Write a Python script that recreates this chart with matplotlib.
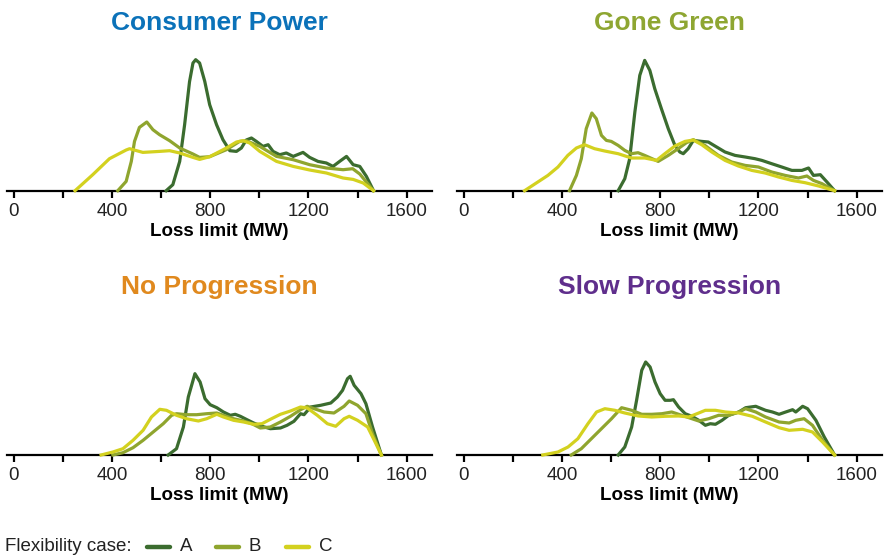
import matplotlib
matplotlib.use("Agg")
import matplotlib.pyplot as plt
from matplotlib.lines import Line2D

plt.rcParams['font.family'] = ['Liberation Sans', 'DejaVu Sans']

# --- data: density curves (height, arbitrary units) ---
# Consumer Power
cp_a_mw = [621, 648, 676, 696, 716, 730, 741, 757, 778, 798, 826, 852, 880, 907, 927, 947, 968, 988,
           1015, 1036, 1056, 1083, 1110, 1138, 1178, 1205, 1239, 1273, 1300, 1327, 1355, 1382, 1409, 1436, 1465]
cp_a = [0, 6, 29.3, 66, 109, 127.7, 131, 127.7, 109.3, 86, 66, 51, 40, 39.3, 42.7, 50.7, 52.7, 49.3,
        44.3, 46, 39.3, 36, 37.7, 34.3, 38.3, 33.3, 29.3, 27.7, 24.3, 29.3, 34.3, 26, 24.3, 14.3, 0]
cp_b_mw = [424, 458, 479, 492, 512, 542, 567, 594, 635, 676, 730, 757, 798, 866, 920, 947, 1002,
           1070, 1138, 1205, 1273, 1341, 1380, 1409, 1465]
cp_b = [0, 9.3, 29.3, 49.3, 63.3, 68.7, 61, 56, 50, 42.7, 36.7, 33.3, 34, 41, 49.3, 50, 44.3,
        34.3, 31, 26, 22.7, 21, 22, 16.7, 0]
cp_c_mw = [250, 322, 390, 458, 472, 526, 594, 635, 676, 730, 757, 798, 866, 907, 934, 961, 1002,
           1070, 1138, 1205, 1273, 1341, 1382, 1423, 1465]
cp_c = [0, 16, 32, 40.7, 42, 38.3, 39.3, 40, 37.7, 33.3, 31.3, 34, 42.7, 48.7, 50, 47.7, 39.3,
        29.3, 24.3, 20.7, 17.7, 12.7, 11.3, 7.7, 0]

# Gone Green
gg_a_mw = [629, 656, 676, 697, 717, 737, 758, 778, 805, 833, 860, 880, 894, 914, 935, 969, 996, 1023,
           1064, 1105, 1146, 1186, 1214, 1254, 1295, 1336, 1377, 1404, 1424, 1452, 1479, 1510]
gg_a = [0, 12, 32, 78.7, 115.3, 130.3, 120.3, 102, 82, 62, 45.3, 38.7, 37, 42, 50.3, 49.3, 48.7, 44.7,
        38.7, 35.3, 33.7, 32, 30.3, 27, 23.7, 20.3, 20.3, 22.7, 15.3, 16, 8.7, 0]
gg_b_mw = [431, 459, 479, 499, 522, 540, 561, 581, 601, 629, 656, 683, 710, 737, 792, 833, 873, 907,
           935, 982, 1037, 1091, 1146, 1200, 1254, 1309, 1363, 1397, 1424, 1459, 1510]
gg_b = [0, 15.3, 32, 62, 77.7, 72, 55.3, 50.3, 49.3, 45.3, 40.3, 37, 38, 35.3, 29.3, 35.3, 42, 48,
        51, 45.3, 35.3, 28.7, 25.3, 23.7, 18.7, 15.3, 12.7, 14.7, 10.3, 7, 0]
gg_c_mw = [248, 302, 343, 384, 424, 459, 492, 533, 574, 629, 683, 737, 785, 819, 860, 901, 935, 969,
           1010, 1064, 1118, 1173, 1227, 1282, 1336, 1390, 1445, 1510]
gg_c = [0, 8.7, 15.3, 23.7, 35.3, 42.7, 46, 42, 39.7, 37, 32.7, 32.7, 30.3, 37, 44.7, 49.3, 50.7, 46,
        38.7, 30.3, 24.7, 20.3, 17.7, 13.7, 10.3, 8, 4.7, 0]

# No Progression
np_a_mw = [629, 663, 691, 711, 738, 759, 779, 800, 827, 854, 882, 902, 923, 950, 977, 1011, 1045, 1086,
           1113, 1141, 1168, 1182, 1209, 1250, 1291, 1318, 1339, 1359, 1370, 1386, 1414, 1434, 1461, 1497]
np_a = [0, 6.3, 28, 58, 81.3, 73, 56.3, 50.3, 47.3, 43, 39.7, 40.7, 38.7, 35.3, 32, 28.7, 26.3, 27,
        29.7, 33.7, 41.3, 40.3, 48, 49.7, 52, 58, 64.7, 76.3, 78.7, 69.7, 61.3, 51.3, 28, 0]
np_b_mw = [404, 445, 486, 527, 568, 609, 643, 663, 704, 745, 786, 827, 854, 895, 936, 970, 1004, 1045,
           1086, 1127, 1168, 1195, 1223, 1264, 1304, 1345, 1366, 1400, 1434, 1461, 1497]
np_b = [0, 2.3, 7.3, 14.7, 23, 31.3, 39.7, 41.3, 40.3, 40.3, 41.3, 42, 39.7, 36.3, 34, 31.3, 27, 28,
        33, 38.7, 45.3, 48.7, 46.3, 43, 42, 48.7, 54, 49.7, 41.3, 21.3, 0]
np_c_mw = [356, 404, 445, 486, 527, 561, 595, 622, 663, 704, 752, 786, 827, 854, 895, 936, 977, 1011,
           1045, 1086, 1127, 1168, 1195, 1236, 1277, 1311, 1345, 1366, 1400, 1441, 1468, 1497]
np_c = [0, 3, 6.3, 14.7, 24.7, 38, 45.7, 44.7, 39.7, 36.3, 34, 36.3, 40.7, 38, 34.7, 33, 30.7, 31.3,
        35.7, 40.7, 44, 48, 47, 39.7, 31.3, 28.7, 36.3, 38.7, 34.7, 28, 14.7, 0]

# Slow Progression
sp_a_mw = [629, 656, 684, 704, 725, 741, 759, 779, 800, 820, 841, 854, 875, 902, 929, 957, 984, 1004,
           1025, 1052, 1079, 1120, 1148, 1189, 1229, 1257, 1284, 1311, 1339, 1352, 1380, 1400, 1434,
           1468, 1510]
sp_a = [0, 8, 28, 54.7, 84.7, 93, 88, 73, 61.3, 54.7, 54.7, 55.3, 48, 41.3, 38.7, 34.7, 29.7, 31.3,
        30.7, 34.7, 39.7, 43, 47.3, 48.7, 44.7, 43, 40.7, 43, 45.3, 43, 48.7, 46.3, 34.7, 18, 0]
sp_b_mw = [438, 479, 520, 561, 602, 643, 684, 725, 766, 807, 847, 888, 929, 957, 998, 1038, 1079,
           1120, 1148, 1189, 1229, 1284, 1325, 1352, 1386, 1420, 1461, 1510]
sp_b = [0, 6.3, 16.3, 26.3, 36.3, 47.3, 44.7, 40.7, 40.7, 41.3, 43, 39.7, 36.3, 34, 36.3, 39.7, 39.7,
        43, 46.3, 43, 38, 33, 32, 34.7, 36.3, 29.7, 14.7, 0]
sp_c_mw = [322, 384, 425, 465, 506, 541, 575, 616, 656, 711, 766, 820, 875, 916, 950, 984, 1025, 1066,
           1120, 1175, 1229, 1284, 1325, 1380, 1420, 1461, 1510]
sp_c = [0, 3, 8, 16.3, 31.3, 43, 46.3, 44.7, 42, 39, 38, 38.7, 39, 38, 41.3, 44.7, 44.7, 43,
        42, 38.7, 33, 27.3, 24.7, 25.7, 23, 13, 0]

scenarios = ["Consumer Power", "Gone Green", "No Progression", "Slow Progression"]
title_colors = ["#0b72b9", "#8ea632", "#e0891e", "#5f2e8c"]
cases = ["A", "B", "C"]
case_colors = ["#3b6c2f", "#8fa52e", "#d3d11f"]
series = [
    [(cp_a_mw, cp_a), (cp_b_mw, cp_b), (cp_c_mw, cp_c)],
    [(gg_a_mw, gg_a), (gg_b_mw, gg_b), (gg_c_mw, gg_c)],
    [(np_a_mw, np_a), (np_b_mw, np_b), (np_c_mw, np_c)],
    [(sp_a_mw, sp_a), (sp_b_mw, sp_b), (sp_c_mw, sp_c)],
]

fig = plt.figure(figsize=(8.89, 5.56), dpi=100)

W, H = 889, 556
lefts = [7, 457, 7, 457]
baselines = [190.7, 190.7, 455, 455]
ax_w, ax_h = 425, 140

for i, name in enumerate(scenarios):
    ax = fig.add_axes([lefts[i] / W, (H - baselines[i]) / H, ax_w / W, ax_h / H])
    for (xs, ys), col in zip(series[i], case_colors):
        ax.plot(xs, ys, color=col, lw=2.3, clip_on=False, solid_joinstyle='round')
    ax.set_xlim(-27, 1703)
    ax.set_ylim(0, 140)
    for s in ["top", "left", "right"]:
        ax.spines[s].set_visible(False)
    ax.spines["bottom"].set_linewidth(1.6)
    ax.spines["bottom"].set_zorder(0.5)
    ax.set_yticks([])
    ax.set_xticks([0, 400, 800, 1200, 1600])
    ax.set_xticks([200, 600, 1000, 1400], minor=True)
    ax.tick_params(axis="x", which="both", direction="out", length=5, width=1.6,
                   labelsize=13.5, pad=4, labelcolor="#222222")
    ax.set_xlabel("Loss limit (MW)", fontsize=13.5, fontweight="bold", labelpad=2)
    ax.set_title(name, fontsize=19, fontweight="bold", color=title_colors[i], pad=15)

# legend row
ly = (H - 546.5) / H
fig.text(5 / W, ly, "Flexibility case:", fontsize=13.5, va="center", ha="left", color="#222222")
handle_x = [147, 216, 286]
for hx, lab, col in zip(handle_x, cases, case_colors):
    fig.add_artist(Line2D([hx / W, (hx + 23) / W], [ly, ly], transform=fig.transFigure,
                          color=col, lw=3.2, solid_capstyle="round"))
    fig.text((hx + 33) / W, ly, lab, fontsize=13.5, va="center", ha="left", color="#222222")

fig.savefig("out.png", dpi=100)
